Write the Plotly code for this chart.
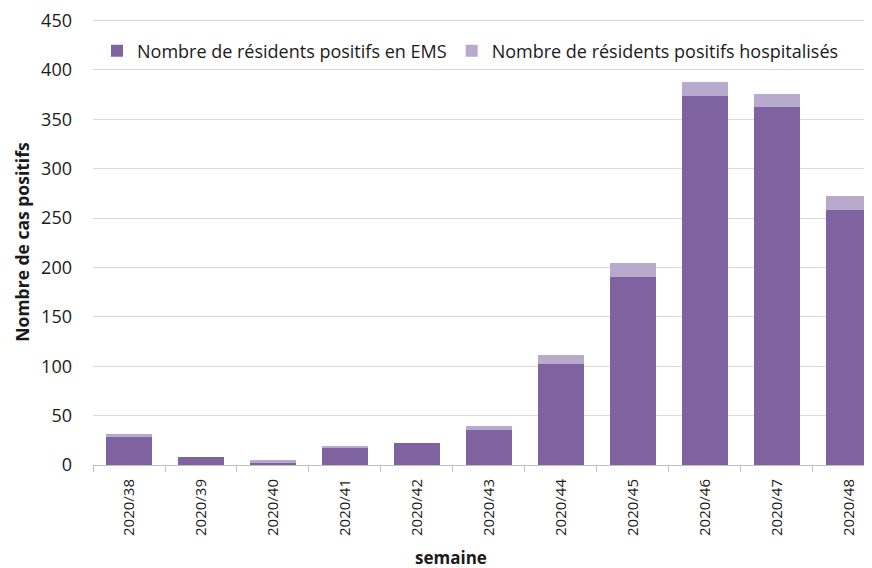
import plotly.graph_objects as go

semaines = ["2020/38", "2020/39", "2020/40", "2020/41", "2020/42", "2020/43",
            "2020/44", "2020/45", "2020/46", "2020/47", "2020/48"]
ems = [28, 8, 3, 18, 22, 35, 102, 190, 374, 363, 258]
hospitalises = [3, 0, 2, 1, 0, 5, 9, 15, 14, 13, 14]

FONT = "Open Sans"
OFF = 8  # page body margin
W, H = 872 - OFF, 568 - OFF
L, T, B = 93 - OFF, 19 - OFF, 103
PH = H - T - B
PW = W - L


def py(screen_y):
    """paper y for a screen pixel row"""
    return (T + PH - (screen_y - OFF)) / PH


fig = go.Figure()
fig.add_trace(go.Bar(x=semaines, y=ems, name="Nombre de résidents positifs en EMS",
                     marker=dict(color="#7F63A1", line=dict(width=0))))
fig.add_trace(go.Bar(x=semaines, y=hospitalises, name="Nombre de résidents positifs hospitalisés",
                     marker=dict(color="#B8AACD", line=dict(width=0))))

fig.update_layout(
    width=W, height=H,
    barmode="stack", bargap=0.35,
    margin=dict(l=L, r=0, t=T, b=B, pad=0),
    plot_bgcolor="white", paper_bgcolor="white",
    font=dict(family=FONT, size=18, color="#1a1a1a"),
    showlegend=True,
    legend=dict(orientation="h", x=4 / PW, y=py(51), xanchor="left", yanchor="middle",
                font=dict(family=FONT, size=18, color="#1a1a1a"), traceorder="normal",
                itemwidth=30, bgcolor="rgba(0,0,0,0)"),
    xaxis=dict(range=[-0.5, 10.32], tickangle=-90, showline=True, linecolor="#bfbfbf",
               linewidth=1, ticks="outside", tickson="boundaries", ticklen=6,
               tickcolor="#bfbfbf", tickfont=dict(size=15, family=FONT),
               ticklabelstandoff=7, showgrid=False),
    yaxis=dict(range=[0, 451.6], tickvals=[0, 50, 100, 150, 200, 250, 300, 350, 400, 450],
               showgrid=True, gridcolor="#d9d9d9",
               gridwidth=1, zeroline=False, showline=False, ticks="",
               tickfont=dict(size=18, family=FONT), ticklabelstandoff=20,
               ticklabeloverflow="allow",
               title=dict(text="<b>Nombre de cas positifs</b>", font=dict(size=17.5, family=FONT),
                          standoff=6)),
)
fig.add_annotation(text="<b>semaine</b>", xref="paper", yref="paper",
                   x=(451 - 93) / 779, y=py(557), showarrow=False,
                   font=dict(size=17, family=FONT), xanchor="center", yanchor="middle")
fig.write_html("out.html")
